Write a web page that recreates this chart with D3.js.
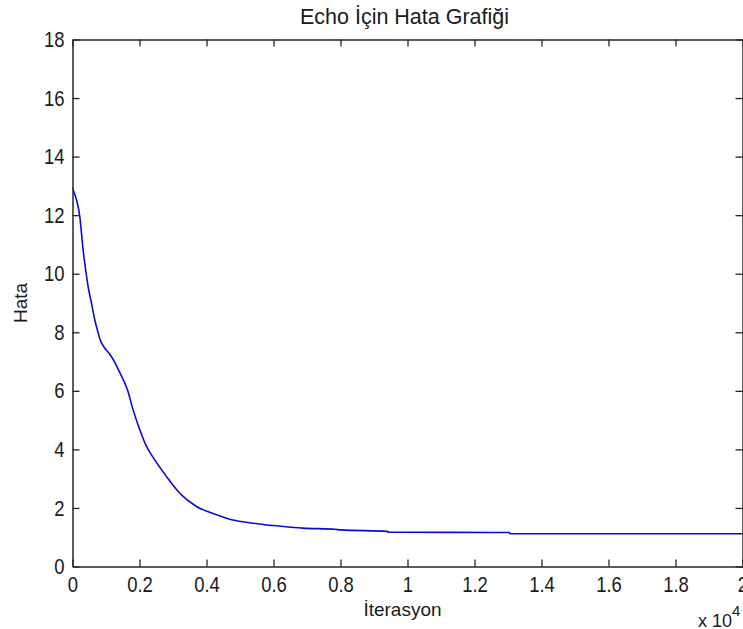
<!DOCTYPE html>
<html>
<head>
<meta charset="utf-8">
<script src="https://cdn.jsdelivr.net/npm/d3@7/dist/d3.min.js"></script>
<style>
  html, body { margin: 0; padding: 0; background: #fff; overflow: hidden; }
  text { font-family: "Liberation Sans", Arial, sans-serif; fill: #1a1a1a; }
</style>
</head>
<body>
<div id="chart"></div>
<script>
// error curve
var iterasyon = [0, 18, 120, 218, 269, 317, 367, 466, 567, 666, 764, 815, 950, 1113, 1250, 1361, 1650, 1809, 2009,
    2209, 2457, 2806, 3203, 3701, 4299, 4785, 5400, 5790, 5980, 6875, 7830, 8010,
    9400, 9420, 13040, 13060, 20000];
var hata = [12.95, 12.88, 12.52, 11.95, 11.38, 10.81, 10.36, 9.56, 8.99, 8.42, 7.99, 7.78, 7.48, 7.25, 7.0, 6.74, 6.0, 5.35, 4.67,
    4.10, 3.64, 3.07, 2.5, 2.05, 1.77, 1.59, 1.48, 1.42, 1.40, 1.31, 1.27, 1.25,
    1.2, 1.17, 1.16, 1.12, 1.12];

var xTicks = [0, 2000, 4000, 6000, 8000, 10000, 12000, 14000, 16000, 18000, 20000];
var yTicks = [0, 2, 4, 6, 8, 10, 12, 14, 16, 18];

var baslik = "Echo İçin Hata Grafiği",
    xEtiket = "İterasyon",
    yEtiket = "Hata";

var w = 743, h = 629;
var pLeft = 72.5, pRight = 742.5, pTop = 39.5, pBottom = 566.5;
var sx = 0.84; // tick digits are narrow in the original

var svg = d3.select("#chart")
    .append("svg")
    .attr("width", w)
    .attr("height", h);

var x = d3.scaleLinear().domain([0, 20000]).range([pLeft, pRight]);
var y = d3.scaleLinear().domain([0, 18]).range([pBottom, pTop]);

var fmt = function(d) { return String(+(d / 10000).toFixed(1)); };

var data = iterasyon.map(function(d, i) { return { it: d, v: hata[i] }; });

svg.append("clipPath").attr("id", "clip")
    .append("rect")
    .attr("x", pLeft).attr("y", pTop)
    .attr("width", pRight - pLeft).attr("height", pBottom - pTop);

// curve
var line = d3.line()
    .x(function(d) { return x(d.it); })
    .y(function(d) { return y(d.v); })
    .curve(d3.curveMonotoneX);

svg.append("path")
    .datum(data)
    .attr("clip-path", "url(#clip)")
    .attr("fill", "none")
    .attr("stroke", "#0a0ad8")
    .attr("stroke-width", 1.6)
    .attr("d", line);

// axes (matlab box, ticks inside)
function styleAxis(g) {
    g.attr("font-family", null);
    g.select(".domain").attr("stroke", "#262626").attr("stroke-width", 1.5);
    g.selectAll(".tick line").attr("stroke", "#262626").attr("stroke-width", 1.3);
    g.selectAll("text")
        .attr("fill", "#1a1a1a")
        .style("font-size", "22px")
        .attr("x", function() { return (+d3.select(this).attr("x") || 0) / sx; })
        .attr("transform", "scale(" + sx + ",1)");
}

svg.append("g")
    .attr("transform", "translate(0," + pBottom + ")")
    .call(d3.axisBottom(x).tickValues(xTicks).tickFormat(fmt).tickSizeInner(-7).tickSizeOuter(0).tickPadding(10))
    .call(styleAxis);

svg.append("g")
    .attr("transform", "translate(0," + pTop + ")")
    .call(d3.axisTop(x).tickValues(xTicks).tickFormat("").tickSizeInner(-7).tickSizeOuter(0))
    .call(styleAxis);

svg.append("g")
    .attr("transform", "translate(" + pLeft + ",0)")
    .call(d3.axisLeft(y).tickValues(yTicks).tickSizeInner(-7).tickSizeOuter(0).tickPadding(8))
    .call(styleAxis);

svg.append("g")
    .attr("transform", "translate(" + pRight + ",0)")
    .call(d3.axisRight(y).tickValues(yTicks).tickFormat("").tickSizeInner(-7).tickSizeOuter(0))
    .call(styleAxis);

// labels
svg.append("text")
    .attr("x", (pLeft + pRight) / 2 - 3)
    .attr("y", 24)
    .attr("text-anchor", "middle")
    .style("font-size", "21.5px")
    .text(baslik);

svg.append("text")
    .attr("x", (pLeft + pRight) / 2 - 5)
    .attr("y", 616)
    .attr("text-anchor", "middle")
    .style("font-size", "19px")
    .text(xEtiket);

svg.append("text")
    .attr("transform", "translate(27," + 303 + ") rotate(-90)")
    .attr("text-anchor", "middle")
    .style("font-size", "19px")
    .text(yEtiket);

var us = svg.append("text")
    .attr("x", 698)
    .attr("y", 627)
    .style("font-size", "18px");
us.append("tspan").text("x 10");
us.append("tspan").attr("dy", -11).style("font-size", "15px").text("4");
</script>
</body>
</html>
